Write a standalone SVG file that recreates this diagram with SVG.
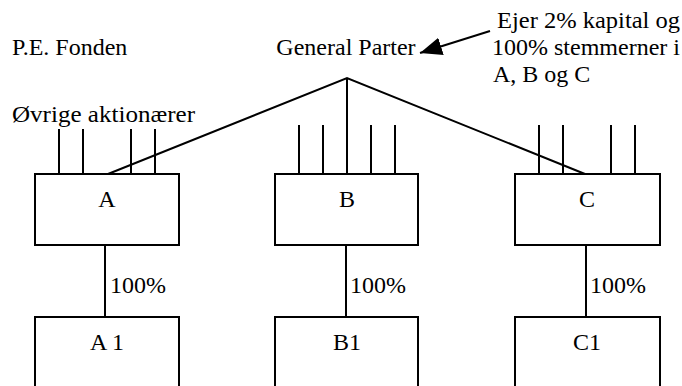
<svg xmlns="http://www.w3.org/2000/svg" width="682" height="386" viewBox="0 0 682 386">
<style>
text{font-family:"Liberation Serif","Times New Roman",serif;font-size:24px;fill:#000}
.box{fill:#fff;stroke:#000;stroke-width:2}
.ln{stroke:#000;stroke-width:2;fill:none}
.c{text-anchor:middle}
</style>
<defs>
<marker id="ah" markerUnits="userSpaceOnUse" markerWidth="24" markerHeight="20" refX="22" refY="9" orient="auto">
<path d="M0,0 L22,9 L0,18 Z" fill="#000"/>
</marker>
</defs>
<rect width="682" height="386" fill="#fff"/>
<g id="labels">
<text x="12" y="55">P.E. Fonden</text>
<text x="12" y="122" textLength="183" lengthAdjust="spacingAndGlyphs">Øvrige aktionærer</text>
</g>
<g id="general-parter">
<text x="346" y="55" class="c">General Parter</text>
</g>
<g id="note">
<text x="497" y="28" textLength="183" lengthAdjust="spacingAndGlyphs">Ejer 2% kapital og</text>
<text x="492" y="55" textLength="188" lengthAdjust="spacingAndGlyphs">100% stemmerner i</text>
<text x="493" y="82">A, B og C</text>
</g>
<g id="connectors">
<path class="ln" d="M490,31 L420,53" marker-end="url(#ah)"/>
<path class="ln" d="M108,174 L347,78 L585,174 M347,78 L347,174"/>
<path class="ln" d="M59,129 V174 M83,129 V174 M131,129 V174 M155,129 V174"/>
<path class="ln" d="M299,125 V174 M323,125 V174 M371,125 V174 M395,125 V174"/>
<path class="ln" d="M539,125 V174 M563,125 V174 M611,125 V174 M635,125 V174"/>
<path class="ln" d="M105,245 V317 M346,245 V317 M586,245 V317"/>
<text x="110" y="293">100%</text>
<text x="350" y="293">100%</text>
<text x="590" y="293">100%</text>
</g>
<g id="A">
<rect class="box" x="35" y="174" width="144" height="71"/>
<text x="107" y="207" class="c">A</text>
</g>
<g id="B">
<rect class="box" x="275" y="174" width="143" height="71"/>
<text x="347" y="207" class="c">B</text>
</g>
<g id="C">
<rect class="box" x="515" y="174" width="145" height="71"/>
<text x="587" y="207" class="c">C</text>
</g>
<g id="A1">
<rect class="box" x="35" y="317" width="144" height="100"/>
<text x="107" y="350" class="c">A 1</text>
</g>
<g id="B1">
<rect class="box" x="275" y="317" width="143" height="100"/>
<text x="347" y="350" class="c">B1</text>
</g>
<g id="C1">
<rect class="box" x="515" y="317" width="145" height="100"/>
<text x="587" y="350" class="c">C1</text>
</g>
</svg>
